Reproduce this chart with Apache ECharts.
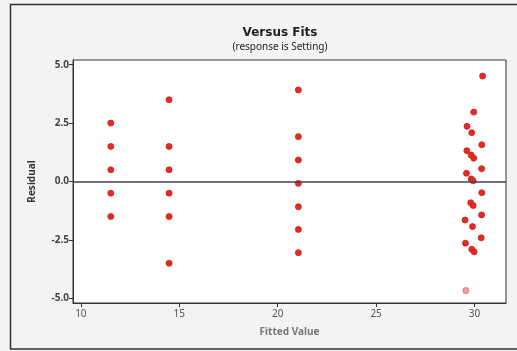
<!DOCTYPE html>
<html>
<head>
<meta charset="utf-8">
<script src="https://cdn.jsdelivr.net/npm/echarts@6/dist/echarts.min.js"></script>
<style>
  html, body { margin: 0; padding: 0; background: #f3f3f3; }
  #chart { width: 517px; height: 351px; }
</style>
</head>
<body>
<div id="chart"></div>
<script>
// Residuals versus fitted values (response is Setting)
const fittedValues = [
  11.52, 11.52, 11.52, 11.52, 11.52,
  14.48, 14.48, 14.48, 14.48, 14.48, 14.48,
  21.05, 21.05, 21.05, 21.05, 21.05, 21.05, 21.05,
  30.41, 29.96, 29.62, 29.86, 30.37, 29.61, 29.83, 29.96,
  30.36, 29.59, 29.83, 29.93, 30.37, 29.81, 29.93, 30.36,
  29.52, 29.90, 30.34, 29.54, 29.86, 29.98, 29.56
];
const residuals = [
  2.5, 1.5, 0.5, -0.5, -1.5,
  3.5, 1.5, 0.5, -0.5, -1.5, -3.5,
  3.92, 1.92, 0.92, -0.08, -1.08, -2.05, -3.05,
  4.51, 2.97, 2.36, 2.09, 1.57, 1.32, 1.13, 1.00,
  0.55, 0.35, 0.11, 0.03, -0.48, -0.91, -1.03, -1.43,
  -1.65, -1.93, -2.41, -2.64, -2.90, -3.01, -4.67
];
const yTickValues = [-5.0, -2.5, 0.0, 2.5, 5.0];
const xTickValues = [10, 15, 20, 25, 30];

const points = fittedValues.map((x, i) => {
  const item = { value: [x, residuals[i]] };
  if (residuals[i] < -4) {
    item.itemStyle = { color: '#f3a0a0', borderColor: '#e8595a' };
  }
  return item;
});

const chart = echarts.init(document.getElementById('chart'), null, { renderer: 'canvas' });
const font = 'Noto Sans';

chart.setOption({
  backgroundColor: '#f3f3f3',
  animation: false,
  title: [
    {
      text: 'Versus Fits',
      left: 275, top: 22, textAlign: 'center',
      textStyle: { fontFamily: 'DejaVu Sans', fontSize: 12, fontWeight: 'bold', color: '#222' }
    },
    {
      text: '(response is Setting)',
      left: 275, top: 37, textAlign: 'center',
      textStyle: { fontFamily: font, fontSize: 10, fontWeight: 'normal', color: '#222' }
    }
  ],
  graphic: [
    {
      type: 'rect', silent: true, z: -1,
      shape: { x: 10.5, y: 4.5, width: 520, height: 344.5 },
      style: { fill: 'none', stroke: '#333', lineWidth: 1.5 }
    }
  ],
  grid: {
    left: 73, top: 60, width: 433, height: 243,
    show: true, backgroundColor: '#ffffff', borderColor: '#333', borderWidth: 1
  },
  xAxis: {
    type: 'value', min: 9.6, max: 31.6,
    name: 'Fitted Value', nameLocation: 'middle', nameGap: 24,
    nameTextStyle: { fontFamily: font, fontSize: 10, fontWeight: 'bold', color: '#777' },
    axisLine: { show: true, onZero: false, lineStyle: { color: '#333' } },
    axisTick: { show: true, length: 4, customValues: xTickValues, lineStyle: { color: '#333' } },
    axisLabel: {
      customValues: xTickValues,
      formatter: v => String(Math.round(v)),
      fontFamily: font, fontSize: 10, color: '#555', margin: 6
    },
    splitLine: { show: false }
  },
  yAxis: {
    type: 'value', min: -5.2, max: 5.2,
    name: 'Residual', nameLocation: 'middle', nameGap: 36, nameRotate: 90,
    nameTextStyle: { fontFamily: font, fontSize: 10, fontWeight: 'bold', color: '#333' },
    axisLine: { show: true, onZero: false, lineStyle: { color: '#333' } },
    axisTick: { show: true, length: 4, customValues: yTickValues, lineStyle: { color: '#333' } },
    axisLabel: {
      customValues: yTickValues,
      formatter: v => (Math.round(v * 10) / 10).toFixed(1),
      fontFamily: font, fontSize: 10, fontWeight: 'bold', color: '#444', margin: 4
    },
    splitLine: { show: false }
  },
  series: [
    {
      type: 'scatter',
      data: points,
      symbol: 'circle',
      symbolSize: 6,
      itemStyle: { color: '#ea2a22', borderColor: '#c81d18', borderWidth: 0.8, opacity: 1 },
      markLine: {
        silent: true, symbol: 'none', label: { show: false },
        lineStyle: { color: '#3c4262', width: 1.5, type: 'solid' },
        data: [{ yAxis: 0 }]
      },
      z: 3
    }
  ]
});
</script>
</body>
</html>
